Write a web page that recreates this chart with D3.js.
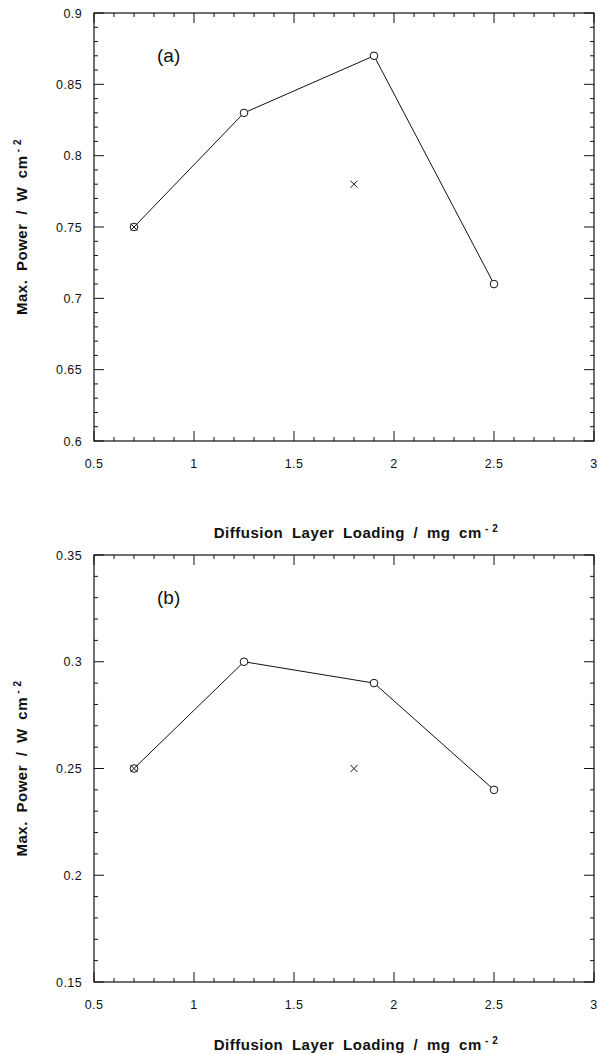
<!DOCTYPE html>
<html>
<head>
<meta charset="utf-8">
<script src="https://cdn.jsdelivr.net/npm/d3@7"></script>
<style>
  body { margin: 0; background: #fff; }
  svg { display: block; font-family: "Liberation Sans", Arial, sans-serif; }
  .tick-label { font-size: 12.5px; fill: #111; letter-spacing: 0.4px; }
  .title { font-size: 15px; font-weight: bold; fill: #111; letter-spacing: 0.5px; word-spacing: 4px; }
</style>
</head>
<body>
<svg id="chart" width="599" height="1054"></svg>
<script>
// Loading values (mg cm-2) and max power for the connected series (circles)
const loading = [0.7, 1.25, 1.9, 2.5];
const powerA = [0.75, 0.83, 0.87, 0.71];
const powerB = [0.25, 0.30, 0.29, 0.24];

// Separate cross markers
const crossLoading = [0.7, 1.8];
const crossA = [0.75, 0.78];
const crossB = [0.25, 0.25];

const xTicks = [0.5, 1, 1.5, 2, 2.5, 3];
const yTicksA = [0.6, 0.65, 0.7, 0.75, 0.8, 0.85, 0.9];
const yTicksB = [0.15, 0.2, 0.25, 0.3, 0.35];

const panels = [
  { label: "(a)", top: 13, bottom: 441, domain: [0.6, 0.9], ticks: yTicksA, power: powerA, cross: crossA, titleY: 538 },
  { label: "(b)", top: 555, bottom: 982, domain: [0.15, 0.35], ticks: yTicksB, power: powerB, cross: crossB, titleY: 1050 }
];

const left = 94, right = 594;
const svg = d3.select("#chart");

panels.forEach(p => {
  const x = d3.scaleLinear().domain([0.5, 3]).range([left, right]);
  const y = d3.scaleLinear().domain(p.domain).range([p.bottom, p.top]);
  const g = svg.append("g");

  // frame
  g.append("rect")
    .attr("x", left).attr("y", p.top)
    .attr("width", right - left).attr("height", p.bottom - p.top)
    .attr("fill", "none").attr("stroke", "#111").attr("stroke-width", 1.2);

  // x ticks (inward, bottom and top)
  const xMinor = d3.range(5, 31).map(d => d / 10);
  xMinor.forEach(v => {
    const major = Math.abs(v * 2 - Math.round(v * 2)) < 1e-6;
    const len = major ? 10 : 4;
    g.append("line").attr("x1", x(v)).attr("x2", x(v))
      .attr("y1", p.bottom).attr("y2", p.bottom - len)
      .attr("stroke", "#111").attr("stroke-width", 1);
    g.append("line").attr("x1", x(v)).attr("x2", x(v))
      .attr("y1", p.top).attr("y2", p.top + len)
      .attr("stroke", "#111").attr("stroke-width", 1);
  });

  // y ticks (inward, left and right)
  const n = Math.round((p.domain[1] - p.domain[0]) * 100);
  d3.range(0, n + 1).forEach(i => {
    const v = p.domain[0] + i / 100;
    const major = i % 5 === 0;
    const len = major ? 10 : 4;
    g.append("line").attr("x1", left).attr("x2", left + len)
      .attr("y1", y(v)).attr("y2", y(v))
      .attr("stroke", "#111").attr("stroke-width", 1);
    g.append("line").attr("x1", right).attr("x2", right - len)
      .attr("y1", y(v)).attr("y2", y(v))
      .attr("stroke", "#111").attr("stroke-width", 1);
  });

  // tick labels
  g.selectAll(".xl").data(xTicks).join("text")
    .attr("class", "tick-label")
    .attr("x", d => x(d)).attr("y", p.bottom + 27)
    .attr("text-anchor", "middle")
    .text(d => d);

  g.selectAll(".yl").data(p.ticks).join("text")
    .attr("class", "tick-label")
    .attr("x", left - 12).attr("y", d => y(d) + 4.5)
    .attr("text-anchor", "end")
    .text(d => d);

  // axis titles
  const xt = g.append("text").attr("class", "title")
    .attr("x", (left + right) / 2 + 12).attr("y", p.titleY)
    .attr("text-anchor", "middle");
  xt.append("tspan").text("Diffusion Layer Loading / mg cm");
  xt.append("tspan").attr("dy", -6).attr("font-size", 10).attr("word-spacing", 0).text(" - 2");

  const cy = (p.top + p.bottom) / 2;
  const yt = g.append("text").attr("class", "title")
    .attr("transform", `translate(27,${cy}) rotate(-90)`)
    .attr("text-anchor", "middle");
  yt.append("tspan").text("Max. Power / W cm");
  yt.append("tspan").attr("dy", -6).attr("font-size", 10).attr("word-spacing", 0).text(" - 2");

  // panel label
  g.append("text")
    .attr("x", 157).attr("y", p.top + 49)
    .attr("font-size", 19).attr("fill", "#111")
    .text(p.label);

  // line + circles
  const pts = loading.map((d, i) => [d, p.power[i]]);
  g.append("path")
    .attr("d", d3.line().x(d => x(d[0])).y(d => y(d[1]))(pts))
    .attr("fill", "none").attr("stroke", "#111").attr("stroke-width", 1);

  g.selectAll(".pt").data(pts).join("circle")
    .attr("cx", d => x(d[0])).attr("cy", d => y(d[1])).attr("r", 3.8)
    .attr("fill", "#fff").attr("stroke", "#111").attr("stroke-width", 1);

  // crosses
  const cr = crossLoading.map((d, i) => [d, p.cross[i]]);
  const s = 3.5;
  g.selectAll(".cx").data(cr).join("path")
    .attr("d", d => {
      const cx = x(d[0]), cyy = y(d[1]);
      return `M${cx - s},${cyy - s}L${cx + s},${cyy + s}M${cx - s},${cyy + s}L${cx + s},${cyy - s}`;
    })
    .attr("stroke", "#111").attr("stroke-width", 1).attr("fill", "none");
});
</script>
</body>
</html>
